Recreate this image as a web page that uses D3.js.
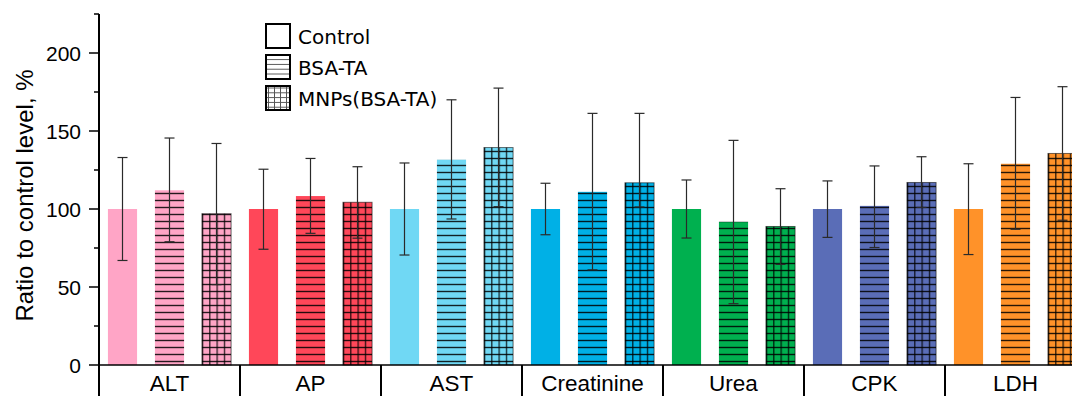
<!DOCTYPE html>
<html>
<head>
<meta charset="utf-8">
<script src="https://cdn.jsdelivr.net/npm/d3@7"></script>
<style>
  html, body { margin: 0; padding: 0; background: #fff; }
  svg { display: block; }
</style>
</head>
<body>
<svg id="chart" width="1072" height="396"></svg>
<script>
const categories = ['ALT', 'AP', 'AST', 'Creatinine', 'Urea', 'CPK', 'LDH']
const series = ['Control', 'BSA-TA', 'MNPs(BSA-TA)']
const colors = ['#ffa5c6', '#ff4759', '#70d8f4', '#00b0e6', '#00b04f', '#5a6db7', '#ff9229']

// mean values, % of control
const controlMean = [100, 100, 100, 100, 100, 100, 100]
const bsaMean = [112, 108.3, 131.6, 111, 91.8, 102, 129]
const mnpMean = [97, 104.3, 139.4, 116.8, 88.8, 117, 135.6]
// error bar ends
const controlHi = [133, 125.5, 129.5, 116.5, 118.6, 118, 129]
const controlLo = [67, 74.2, 70.5, 83.5, 81.4, 81.8, 70.8]
const bsaHi = [145.5, 132.4, 170, 161.3, 144, 127.6, 171.5]
const bsaLo = [79, 84.4, 93.6, 61, 39.3, 75.3, 87]
const mnpHi = [142, 127.1, 177.5, 161.3, 113, 133.5, 178.4]
const mnpLo = [51.5, 81.3, 101.5, 101.3, 64.5, 101, 92.8]

const yTicks = [0, 50, 100, 150, 200]
const yMinorTicks = [25, 75, 125, 175, 225]

const svg = d3.select('#chart')
const defs = svg.append('defs')

const y = d3.scaleLinear().domain([0, 225]).range([365, 14])
const x0 = d3.scaleBand().domain(categories).range([99, 1086])
const x1 = d3.scaleBand().domain(series).range([0, x0.bandwidth()])
const barW = x1.bandwidth() * 0.62

const means = [controlMean, bsaMean, mnpMean]
const his = [controlHi, bsaHi, mnpHi]
const los = [controlLo, bsaLo, mnpLo]

const bars = []
categories.forEach((cat, ci) => {
  series.forEach((s, si) => {
    bars.push({
      cat, ci, s, si,
      value: means[si][ci],
      hi: his[si][ci],
      lo: los[si][ci],
      x: x0(cat) + x1(s) + (x1.bandwidth() - barW) / 2
    })
  })
})

// pattern per hatched bar, aligned to the bar bottom
const hatchColor = 'rgba(0,0,0,0.85)'
const makePattern = (id, d) => {
  const grid = d.si === 2
  const cw = grid ? barW / 4 : barW
  const p = defs.append('pattern')
    .attr('id', id)
    .attr('patternUnits', 'userSpaceOnUse')
    .attr('x', d.x)
    .attr('y', y(0))
    .attr('width', cw)
    .attr('height', 7)
  p.append('rect').attr('width', cw).attr('height', 7).attr('fill', colors[d.ci])
  p.append('line')
    .attr('x1', 0).attr('x2', cw)
    .attr('y1', 3.5).attr('y2', 3.5)
    .attr('stroke', hatchColor).attr('stroke-width', 1.4)
  if (grid) {
    p.append('line')
      .attr('x1', 0.6).attr('x2', 0.6)
      .attr('y1', 0).attr('y2', 7)
      .attr('stroke', hatchColor).attr('stroke-width', 1.3)
  }
}

bars.forEach(d => {
  if (d.si > 0) makePattern(`pat-${d.ci}-${d.si}`, d)
})

const barG = svg.append('g')
barG.selectAll('rect')
  .data(bars)
  .enter()
  .append('rect')
  .attr('x', d => d.x)
  .attr('y', d => y(d.value))
  .attr('width', barW)
  .attr('height', d => y(0) - y(d.value))
  .attr('fill', d => d.si === 0 ? colors[d.ci] : `url(#pat-${d.ci}-${d.si})`)
  .attr('stroke', d => d.si === 2 ? 'rgba(0,0,0,0.55)' : 'none')
  .attr('stroke-width', 1)

// error bars
const errG = svg.append('g')
  .attr('stroke', '#2a2a2a')
  .attr('stroke-width', 1.2)
const capW = 10
const eg = errG.selectAll('g').data(bars).enter().append('g')
eg.append('line')
  .attr('x1', d => d.x + barW / 2).attr('x2', d => d.x + barW / 2)
  .attr('y1', d => y(d.hi)).attr('y2', d => y(d.lo))
eg.append('line')
  .attr('x1', d => d.x + barW / 2 - capW / 2).attr('x2', d => d.x + barW / 2 + capW / 2)
  .attr('y1', d => y(d.hi)).attr('y2', d => y(d.hi))
eg.append('line')
  .attr('x1', d => d.x + barW / 2 - capW / 2).attr('x2', d => d.x + barW / 2 + capW / 2)
  .attr('y1', d => y(d.lo)).attr('y2', d => y(d.lo))

// y axis
const yAxis = svg.append('g')
yAxis.append('line')
  .attr('x1', 99).attr('x2', 99)
  .attr('y1', y(225)).attr('y2', 396)
  .attr('stroke', '#000').attr('stroke-width', 2)
yAxis.selectAll('.major')
  .data(yTicks)
  .enter()
  .append('line')
  .attr('x1', 89).attr('x2', 99)
  .attr('y1', d => y(d)).attr('y2', d => y(d))
  .attr('stroke', '#000').attr('stroke-width', 1.5)
yAxis.selectAll('.minor')
  .data(yMinorTicks)
  .enter()
  .append('line')
  .attr('x1', 94).attr('x2', 99)
  .attr('y1', d => y(d)).attr('y2', d => y(d))
  .attr('stroke', '#000').attr('stroke-width', 1.5)
yAxis.selectAll('text')
  .data(yTicks)
  .enter()
  .append('text')
  .attr('x', 81)
  .attr('y', d => y(d))
  .attr('dy', '0.36em')
  .attr('text-anchor', 'end')
  .attr('font-family', 'Liberation Sans, Arial, sans-serif')
  .attr('font-size', 21)
  .text(d => d)

svg.append('text')
  .attr('transform', `translate(33,${(y(0) + y(225)) / 2 + 6}) rotate(-90)`)
  .attr('text-anchor', 'middle')
  .attr('font-family', 'Liberation Sans, Arial, sans-serif')
  .attr('font-size', 24)
  .text('Ratio to control level, %')

// x axis with category boxes
const xAxis = svg.append('g')
xAxis.append('line')
  .attr('x1', 99).attr('x2', 1086)
  .attr('y1', y(0)).attr('y2', y(0))
  .attr('stroke', '#000').attr('stroke-width', 1.5)
xAxis.selectAll('.div')
  .data(categories.slice(1))
  .enter()
  .append('line')
  .attr('x1', d => x0(d)).attr('x2', d => x0(d))
  .attr('y1', y(0)).attr('y2', 396)
  .attr('stroke', '#000').attr('stroke-width', 2)
xAxis.selectAll('text')
  .data(categories)
  .enter()
  .append('text')
  .attr('x', d => x0(d) + x0.bandwidth() / 2)
  .attr('y', 391)
  .attr('text-anchor', 'middle')
  .attr('font-family', 'Liberation Sans, Arial, sans-serif')
  .attr('font-size', 22.5)
  .text(d => d)

// legend
const legY = [24, 55, 86]
const legendColor = '#555'
const lp1 = defs.append('pattern')
  .attr('id', 'leg-h').attr('patternUnits', 'userSpaceOnUse')
  .attr('x', 0).attr('y', 55)
  .attr('width', 24).attr('height', 4.8)
lp1.append('line').attr('x1', 0).attr('x2', 24).attr('y1', 2.4).attr('y2', 2.4)
  .attr('stroke', legendColor).attr('stroke-width', 1)
const lp2 = defs.append('pattern')
  .attr('id', 'leg-g').attr('patternUnits', 'userSpaceOnUse')
  .attr('x', 266).attr('y', 86)
  .attr('width', 6).attr('height', 4.8)
lp2.append('line').attr('x1', 0).attr('x2', 6).attr('y1', 2.4).attr('y2', 2.4)
  .attr('stroke', legendColor).attr('stroke-width', 1)
lp2.append('line').attr('x1', 0.5).attr('x2', 0.5).attr('y1', 0).attr('y2', 4.8)
  .attr('stroke', legendColor).attr('stroke-width', 1)

const legend = svg.append('g')
const li = legend.selectAll('g')
  .data(series)
  .enter()
  .append('g')
  .attr('transform', (d, i) => `translate(266,${legY[i]})`)
li.append('rect')
  .attr('width', 24).attr('height', 24)
  .attr('fill', (d, i) => i === 0 ? '#fff' : (i === 1 ? 'url(#leg-h)' : 'url(#leg-g)'))
  .attr('stroke', '#000').attr('stroke-width', 2)
li.append('text')
  .attr('x', 32)
  .attr('y', 20)
  .attr('font-family', 'DejaVu Sans, sans-serif')
  .attr('font-size', 20)
  .text(d => d)
</script>
</body>
</html>
